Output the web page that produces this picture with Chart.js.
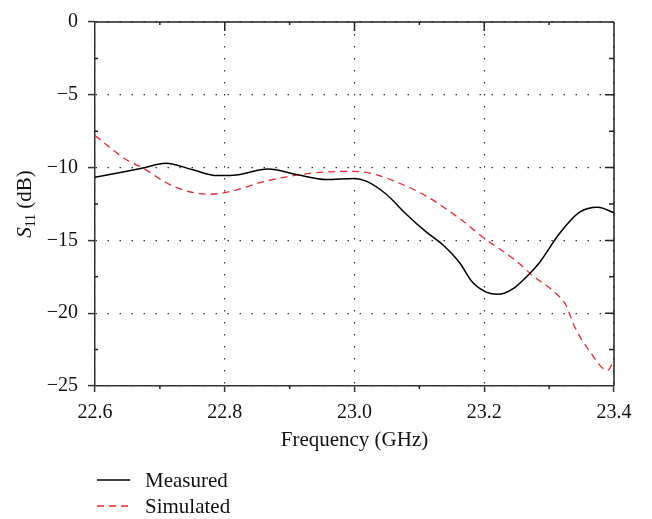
<!DOCTYPE html>
<html>
<head>
<meta charset="utf-8">
<script src="https://cdn.jsdelivr.net/npm/chart.js@4.4.0/dist/chart.umd.min.js"></script>
<style>
  body { margin: 0; background: #fff; }
  #wrap { position: relative; width: 652px; height: 519px; }
  #legend { position: absolute; left: 97px; top: 467px; font: 21px 'Liberation Serif', serif; color: #111; }
  .row { display: flex; align-items: center; height: 26px; }
  .row svg { margin-right: 15px; }
</style>
</head>
<body>
<div id="wrap">
  <canvas id="chart" width="652" height="519"></canvas>
  <div id="legend"></div>
</div>
<script>
// frequency in GHz, S11 in dB
const measuredFreq = [22.6, 22.649, 22.674, 22.709, 22.751, 22.788, 22.813, 22.867, 22.911, 22.956, 23.0, 23.018, 23.049, 23.079, 23.110, 23.136, 23.162, 23.182, 23.203, 23.221, 23.244, 23.269, 23.285, 23.316, 23.347, 23.375, 23.4];
const measuredS11 = [-10.67, -10.25, -10.03, -9.70, -10.15, -10.55, -10.53, -10.10, -10.48, -10.82, -10.75, -10.93, -11.83, -13.17, -14.40, -15.30, -16.53, -17.88, -18.55, -18.70, -18.33, -17.32, -16.53, -14.52, -13.06, -12.72, -13.10];

const simulatedFreq = [22.6, 22.649, 22.674, 22.71, 22.741, 22.777, 22.813, 22.854, 22.906, 22.956, 23.0, 23.033, 23.074, 23.110, 23.162, 23.2, 23.249, 23.275, 23.311, 23.326, 23.339, 23.362, 23.39, 23.4];
const simulatedS11 = [-7.8, -9.48, -10.03, -11.04, -11.6, -11.83, -11.6, -11.04, -10.55, -10.3, -10.26, -10.48, -11.16, -11.94, -13.5, -14.85, -16.4, -17.43, -18.66, -19.45, -20.9, -22.58, -23.93, -23.25];

const seriesNames = ['Measured', 'Simulated'];
const xTicks = [22.6, 22.8, 23.0, 23.2, 23.4];
const yTicks = [0, -5, -10, -15, -20, -25];

const serif = "'Liberation Serif', 'Times New Roman', serif";

function toPoints(xs, ys) {
  return xs.map((x, i) => ({ x: x, y: ys[i] }));
}

// closes the box and adds the minor / mirrored tick marks
const frame = {
  id: 'frame',
  afterDatasetsDraw(chart) {
    const ctx = chart.ctx;
    const a = chart.chartArea;
    const xs = chart.scales.x, ys = chart.scales.y;
    ctx.save();
    ctx.strokeStyle = '#222';
    ctx.lineWidth = 1.5;
    ctx.beginPath();
    ctx.moveTo(a.left, a.top); ctx.lineTo(a.right, a.top);
    ctx.moveTo(a.right, a.top); ctx.lineTo(a.right, a.bottom);
    ctx.stroke();

    ctx.beginPath();
    for (let i = 0; i < xTicks.length - 1; i++) {
      const major = xs.getPixelForValue(xTicks[i]);
      const minor = xs.getPixelForValue((xTicks[i] + xTicks[i + 1]) / 2);
      if (i > 0) { ctx.moveTo(major, a.top); ctx.lineTo(major, a.top + 9); }
      ctx.moveTo(minor, a.top); ctx.lineTo(minor, a.top + 3);
      ctx.moveTo(minor, a.bottom); ctx.lineTo(minor, a.bottom + 3);
    }
    for (let i = 0; i < yTicks.length - 1; i++) {
      const major = ys.getPixelForValue(yTicks[i]);
      const minor = ys.getPixelForValue((yTicks[i] + yTicks[i + 1]) / 2);
      if (i > 0) { ctx.moveTo(a.right, major); ctx.lineTo(a.right - 9, major); }
      ctx.moveTo(a.right, minor); ctx.lineTo(a.right - 5, minor);
      ctx.moveTo(a.left - 1, minor); ctx.lineTo(a.left + 3, minor);
    }
    ctx.stroke();
    ctx.restore();
  }
};

// S11 (dB) with italic S and subscript
const yTitle = {
  id: 'yTitle',
  afterDraw(chart) {
    const ctx = chart.ctx;
    const a = chart.chartArea;
    const big = '21px ' + serif;
    const bigIt = 'italic 21px ' + serif;
    const small = '14px ' + serif;
    ctx.save();
    ctx.font = bigIt; const w1 = ctx.measureText('S').width;
    ctx.font = small; const w2 = ctx.measureText('11').width;
    ctx.font = big; const w3 = ctx.measureText(' (dB)').width;
    const total = w1 + w2 + w3;
    ctx.translate(31, (a.top + a.bottom) / 2);
    ctx.rotate(-Math.PI / 2);
    ctx.fillStyle = '#111';
    ctx.textBaseline = 'alphabetic';
    let x = -total / 2;
    ctx.font = bigIt; ctx.fillText('S', x, 0); x += w1;
    ctx.font = small; ctx.fillText('11', x, 4); x += w2;
    ctx.font = big; ctx.fillText(' (dB)', x, 0);
    ctx.restore();
  }
};

const dotted = [1.5, 10.5];

const chart = new Chart(document.getElementById('chart'), {
  type: 'line',
  data: {
    datasets: [{
      label: seriesNames[0],
      data: toPoints(measuredFreq, measuredS11),
      borderColor: '#000',
      borderWidth: 1.5,
      pointRadius: 0,
      cubicInterpolationMode: 'monotone',
      fill: false
    }, {
      label: seriesNames[1],
      data: toPoints(simulatedFreq, simulatedS11),
      borderColor: '#e8282e',
      borderWidth: 1.3,
      borderDash: [7, 5],
      pointRadius: 0,
      cubicInterpolationMode: 'monotone',
      fill: false
    }]
  },
  options: {
    responsive: false,
    animation: false,
    layout: { padding: { top: 14, right: 38, bottom: 62, left: 0 } },
    plugins: { legend: { display: false }, tooltip: { enabled: false } },
    scales: {
      x: {
        type: 'linear',
        min: 22.6,
        max: 23.4,
        afterBuildTicks: s => { s.ticks = xTicks.map(v => ({ value: v })); },
        afterFit: s => { s.height = 71; },
        ticks: {
          color: '#111',
          font: { family: serif, size: 20 },
          padding: 9,
          maxRotation: 0,
          callback: v => v.toFixed(1)
        },
        grid: {
          color: '#333',
          lineWidth: 1.2,
          tickColor: '#333',
          tickLength: 6,
          tickWidth: 1.5,
          tickBorderDash: []
        },
        border: { color: '#333', width: 1.5, dash: dotted },
        title: {
          display: true,
          text: 'Frequency (GHz)',
          color: '#111',
          font: { family: serif, size: 21 }
        }
      },
      y: {
        min: -25,
        max: 0,
        afterBuildTicks: s => { s.ticks = yTicks.slice().reverse().map(v => ({ value: v })); },
        afterFit: s => { s.width = 95; },
        ticks: {
          color: '#111',
          font: { family: serif, size: 20 },
          padding: 10,
          callback: v => String(v).replace('-', '\u2212')
        },
        grid: {
          color: '#333',
          lineWidth: 1.2,
          tickColor: '#333',
          tickLength: 7,
          tickWidth: 1.5,
          tickBorderDash: []
        },
        border: { color: '#333', width: 1.5, dash: dotted }
      }
    }
  },
  plugins: [frame, yTitle]
});

// legend under the plot, one entry per row
const legend = document.getElementById('legend');
chart.data.datasets.forEach(ds => {
  const row = document.createElement('div');
  row.className = 'row';
  const dash = ds.borderDash ? ds.borderDash.join(' ') : 'none';
  row.innerHTML = '<svg width="33" height="4"><line x1="0" y1="2" x2="33" y2="2" stroke="' + ds.borderColor +
    '" stroke-width="' + ds.borderWidth + '" stroke-dasharray="' + dash + '"/></svg>';
  const t = document.createElement('span');
  t.textContent = ds.label;
  row.appendChild(t);
  legend.appendChild(row);
});
</script>
</body>
</html>
